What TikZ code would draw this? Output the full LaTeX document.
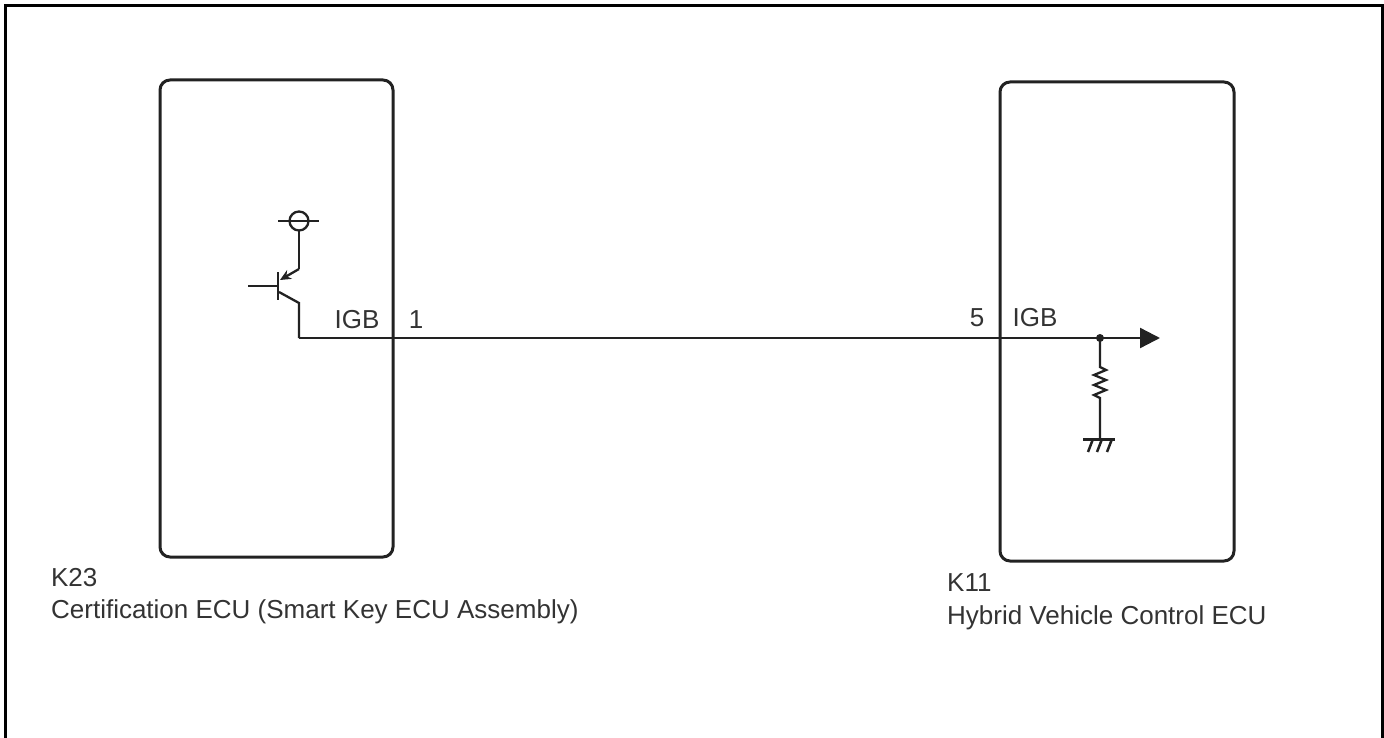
\documentclass[tikz,border=0pt]{standalone}
\usepackage{fontspec}
\setmainfont{Liberation Sans}
\usetikzlibrary{arrows.meta}

\definecolor{wiregray}{HTML}{222222}
\definecolor{textgray}{HTML}{333333}

\begin{document}
\begin{tikzpicture}[x=1pt, y=-1pt, line width=2.3pt, draw=wiregray,
                    ecu/.style={draw, rounded corners=10pt, line width=3pt, inner sep=0pt},
                    pin/.style={font=\fontsize{26}{29}\selectfont, text=textgray, inner sep=0pt},
                    ecu name/.style={font=\fontsize{26}{29}\selectfont, text=textgray, anchor=west, inner sep=0pt}]

  \useasboundingbox (0,0) rectangle (1384,738);
  \draw[line width=3pt, black] (5.5,738) -- (5.5,6) -- (1382.5,6) -- (1382.5,738);

  % ECU boxes
  \node[ecu, minimum width=233pt, minimum height=477pt] (k23) at (276.5,318.5) {};
  \node[ecu, minimum width=234pt, minimum height=479pt] (k11) at (1117,321.5) {};

  \node[ecu name] (k23 code) at (50,578) {K23};
  \node[ecu name] (k23 name) at (50,612) {Certification ECU (Smart Key ECU Assembly)};
  \node[ecu name] (k11 code) at (946,583) {K11};
  \node[ecu name] (k11 name) at (946,618) {Hybrid Vehicle Control ECU};

  % pin labels
  \node[pin] (igb1) at (357,320) {IGB};
  \node[pin] (pin1) at (416,320) {1};
  \node[pin] (pin5) at (977,318) {5};
  \node[pin] (igb5) at (1035,318) {IGB};

  % transistor in K23
  \coordinate (base in) at (248,286);
  \coordinate (base) at (278,286);
  \coordinate (base top) at (278,272);
  \coordinate (base bot) at (278,300);
  \coordinate (emit in) at (280,280);
  \coordinate (emit) at (299,269);
  \coordinate (supply) at (299,221);
  \coordinate (supply bot) at (299,231);
  \coordinate (coll in) at (279,292);
  \coordinate (coll) at (299,303);
  \coordinate (coll bend) at (299,338);

  \draw (base in) -- (base);
  \draw (base top) -- (base bot);
  \draw[-{Stealth[length=11pt, width=10pt]}] (emit) -- (emit in);
  \draw (emit) -- (supply bot);
  \draw (supply) circle[radius=9.5pt];
  \draw ([xshift=-21pt]supply) -- ([xshift=20pt]supply);
  \draw (coll in) -- (coll) -- (coll bend);

  % IGB wire
  \coordinate (junction) at (1100,338);
  \coordinate (tip) at (1160,338);
  \draw[-{Triangle[length=20pt, width=20pt]}] (coll bend) -- (junction) -- (tip);
  \fill[wiregray] (junction) circle[radius=4pt];

  % pull-down resistor and ground in K11
  \coordinate (res top) at (1100,367);
  \coordinate (res bot) at (1100,398);
  \coordinate (gnd) at (1100,439);
  \draw (junction) -- (res top) -- ++(6,3) -- ++(-12,5) -- ++(12,5) -- ++(-12,5)
        -- ++(12,5) -- ++(-12,5) -- (res bot) -- (gnd);
  \draw[line width=3pt] ([xshift=-17pt]gnd) -- ([xshift=15pt]gnd);
  \foreach \dx in {-7,2,12}
    \draw[line width=2.5pt] ([xshift=\dx pt]gnd) -- ++(-5,13);

\end{tikzpicture}
\end{document}
